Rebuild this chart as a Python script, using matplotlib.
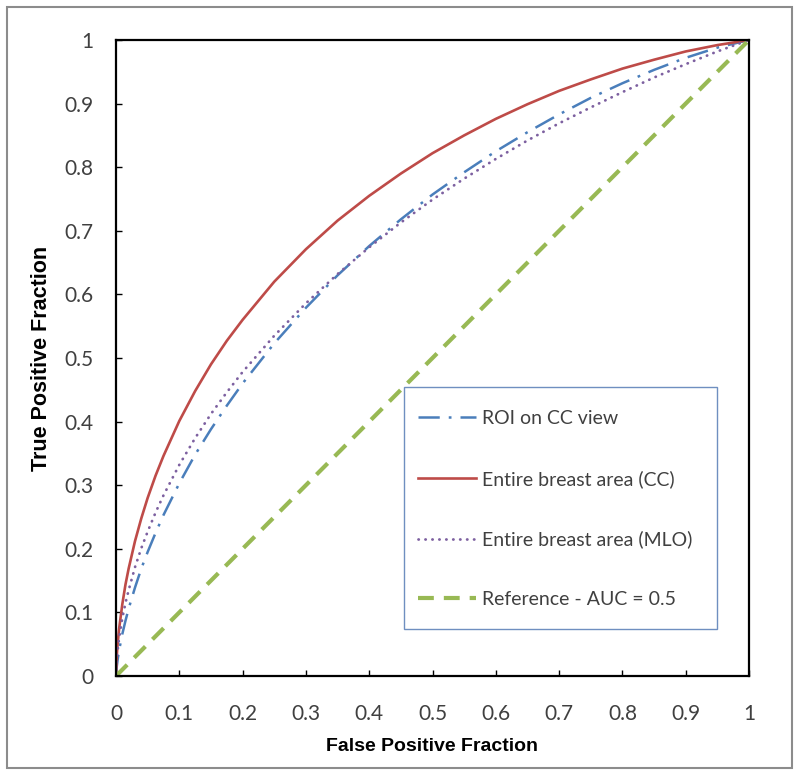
import matplotlib.pyplot as plt
from matplotlib.patches import Rectangle

# ___DATA___ #
FPF = [0, 0.001, 0.0025, 0.005, 0.01, 0.015, 0.02, 0.03, 0.04, 0.05, 0.0625, 0.075, 0.1,
       0.125, 0.15, 0.175, 0.2, 0.25, 0.3, 0.35, 0.4, 0.45, 0.5, 0.55, 0.6, 0.65, 0.7,
       0.75, 0.8, 0.85, 0.9, 0.95, 1.0]
TPF_ROI_CC = [0, 0.013, 0.025, 0.041, 0.066, 0.087, 0.106, 0.139, 0.169, 0.195, 0.225,
              0.253, 0.303, 0.348, 0.388, 0.425, 0.460, 0.523, 0.579, 0.630, 0.676,
              0.718, 0.757, 0.792, 0.825, 0.855, 0.883, 0.909, 0.932, 0.953, 0.972,
              0.988, 1.0]
TPF_BREAST_CC = [0, 0.028, 0.050, 0.075, 0.113, 0.144, 0.169, 0.212, 0.248, 0.280, 0.315,
                 0.346, 0.401, 0.448, 0.490, 0.527, 0.560, 0.620, 0.671, 0.716, 0.755,
                 0.790, 0.822, 0.850, 0.876, 0.899, 0.920, 0.938, 0.955, 0.969, 0.982,
                 0.992, 1.0]
TPF_BREAST_MLO = [0, 0.023, 0.040, 0.060, 0.091, 0.115, 0.135, 0.171, 0.201, 0.227, 0.257,
                  0.284, 0.332, 0.374, 0.412, 0.446, 0.478, 0.535, 0.586, 0.632, 0.674,
                  0.713, 0.749, 0.782, 0.813, 0.842, 0.869, 0.894, 0.918, 0.941, 0.962,
                  0.982, 1.0]
REF_X = [0, 1]
REF_Y = [0, 1]
TICKS = [0, 0.1, 0.2, 0.3, 0.4, 0.5, 0.6, 0.7, 0.8, 0.9, 1]
TICK_LABELS = ['0', '0.1', '0.2', '0.3', '0.4', '0.5', '0.6', '0.7', '0.8', '0.9', '1']

# ___STYLE___ #
COLOR_ROI = '#4A7EBB'
COLOR_CC = '#BE4B48'
COLOR_MLO = '#7D60A0'
COLOR_REF = '#98B954'
TEXT_GRAY = '#404040'
TICK_FONT = 'Lato'


def main():
    fig = plt.figure(figsize=(8, 7.76), dpi=100)
    ax = fig.add_axes([116 / 800, 100 / 776, 633 / 800, 636 / 776])

    ax.plot(FPF, TPF_ROI_CC, color=COLOR_ROI, lw=1.8, dashes=(8.5, 3.6, 1.1, 3.6),
            label='ROI on CC view')
    ax.plot(FPF, TPF_BREAST_CC, color=COLOR_CC, lw=1.9, label='Entire breast area (CC)')
    ax.plot(FPF, TPF_BREAST_MLO, color=COLOR_MLO, lw=2.0, dashes=(0.1, 2.4),
            dash_capstyle='round', label='Entire breast area (MLO)')
    ax.plot(REF_X, REF_Y, color=COLOR_REF, lw=3.0, dashes=(3.8, 2.4),
            label='Reference - AUC = 0.5')

    ax.set_xlim(0, 1)
    ax.set_ylim(0, 1)
    ax.set_xticks(TICKS)
    ax.set_xticklabels(TICK_LABELS)
    ax.set_yticks(TICKS)
    ax.set_yticklabels(TICK_LABELS)
    ax.tick_params(direction='in', length=4, width=1, color='black',
                   labelsize=15, labelcolor=TEXT_GRAY)
    ax.tick_params(axis='x', pad=20)
    ax.tick_params(axis='y', pad=16)
    for lbl in ax.get_xticklabels() + ax.get_yticklabels():
        lbl.set_fontfamily(TICK_FONT)
    for sp in ax.spines.values():
        sp.set_linewidth(1.6)
        sp.set_color('black')

    ax.set_xlabel('False Positive Fraction', fontsize=14, fontweight='bold',
                  family='Liberation Sans', labelpad=10)
    ax.set_ylabel('True Positive Fraction', fontsize=15.5, fontweight='bold',
                  family='Liberation Sans', labelpad=9)

    # legend: entries without frame, box drawn separately (Excel style)
    ax.legend(loc='upper left',
              bbox_to_anchor=((418 - 116) / 633, (676 - 410) / 636),
              prop={'family': TICK_FONT, 'size': 14},
              frameon=False, labelspacing=2.2,
              handlelength=3.0, handletextpad=0.3, borderpad=0,
              borderaxespad=0)
    ax.add_patch(Rectangle(((404 - 116) / 633, (676 - 629) / 636),
                           (717 - 404) / 633, (629 - 387) / 636,
                           transform=ax.transAxes, fill=False,
                           edgecolor='#6F8FC0', lw=1.0, zorder=5))
    for t in ax.get_legend().get_texts():
        t.set_color(TEXT_GRAY)

    # grey outer border around the whole chart
    fig.patches.append(Rectangle((7 / 800, 8 / 776), 785 / 800, 761 / 776,
                                 transform=fig.transFigure, fill=False,
                                 edgecolor='#8C8C8C', lw=1.5))

    fig.savefig('out.png', dpi=100)


if __name__ == '__main__':
    main()
